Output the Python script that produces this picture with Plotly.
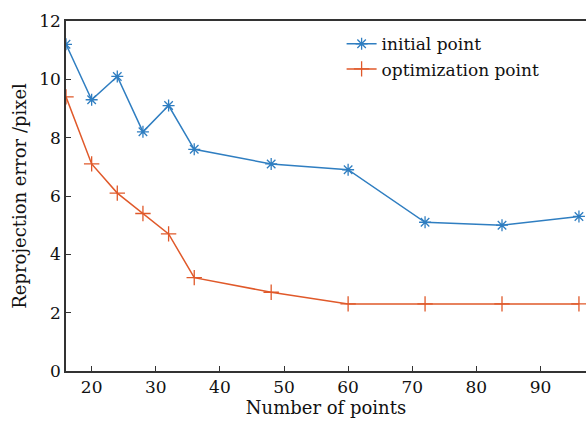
import plotly.graph_objects as go

points = [16, 20, 24, 28, 32, 36, 48, 60, 72, 84, 96]
initial_err = [11.2, 9.3, 10.1, 8.2, 9.1, 7.6, 7.1, 6.9, 5.1, 5.0, 5.3]
optim_err = [9.4, 7.1, 6.1, 5.4, 4.7, 3.2, 2.7, 2.3, 2.3, 2.3, 2.3]

blue = "#2f7ec1"
orange = "#e0592a"
font_family = "DejaVu Serif"

fig = go.Figure()
fig.add_trace(go.Scatter(
    x=points, y=initial_err, mode="lines+markers", name="initial point",
    line=dict(color=blue, width=1.5),
    marker=dict(symbol="asterisk-open", size=10, color=blue, line=dict(color=blue, width=1.3)),
))
fig.add_trace(go.Scatter(
    x=points, y=optim_err, mode="lines+markers", name="optimization point",
    line=dict(color=orange, width=1.5),
    marker=dict(symbol="cross-thin-open", size=11, color=orange, line=dict(color=orange, width=1.3)),
))

fig.update_layout(
    width=586, height=421,
    margin=dict(l=66, r=0, t=21, b=50, autoexpand=False),
    paper_bgcolor="white", plot_bgcolor="white",
    font=dict(family=font_family, size=17, color="#111"),
    showlegend=True,
    legend=dict(x=0.53, y=0.985, xanchor="left", yanchor="top",
                bgcolor="rgba(0,0,0,0)", font=dict(size=17, family=font_family),
                tracegroupgap=0, itemwidth=30),
    xaxis=dict(
        range=[16, 97.1], tickvals=[20, 30, 40, 50, 60, 70, 80, 90],
        ticks="inside", ticklen=5, tickcolor="#333", tickwidth=1,
        showline=True, linecolor="#333", linewidth=1.5, mirror=True,
        showgrid=False, zeroline=False, automargin=False,
        title=dict(text="Number of points", font=dict(size=18), standoff=5),
        tickfont=dict(size=17),
    ),
    yaxis=dict(
        range=[0, 12], tickvals=[0, 2, 4, 6, 8, 10, 12],
        ticks="inside", ticklen=5, tickcolor="#333", tickwidth=1,
        showline=True, linecolor="#333", linewidth=1.5, mirror=True,
        showgrid=False, zeroline=False, automargin=False,
        title=dict(text="Reprojection error /pixel", font=dict(size=18), standoff=8),
        tickfont=dict(size=17),
    ),
)

fig.write_html("out.html", config={"displayModeBar": False},
               post_script="document.body.style.margin='0';")
